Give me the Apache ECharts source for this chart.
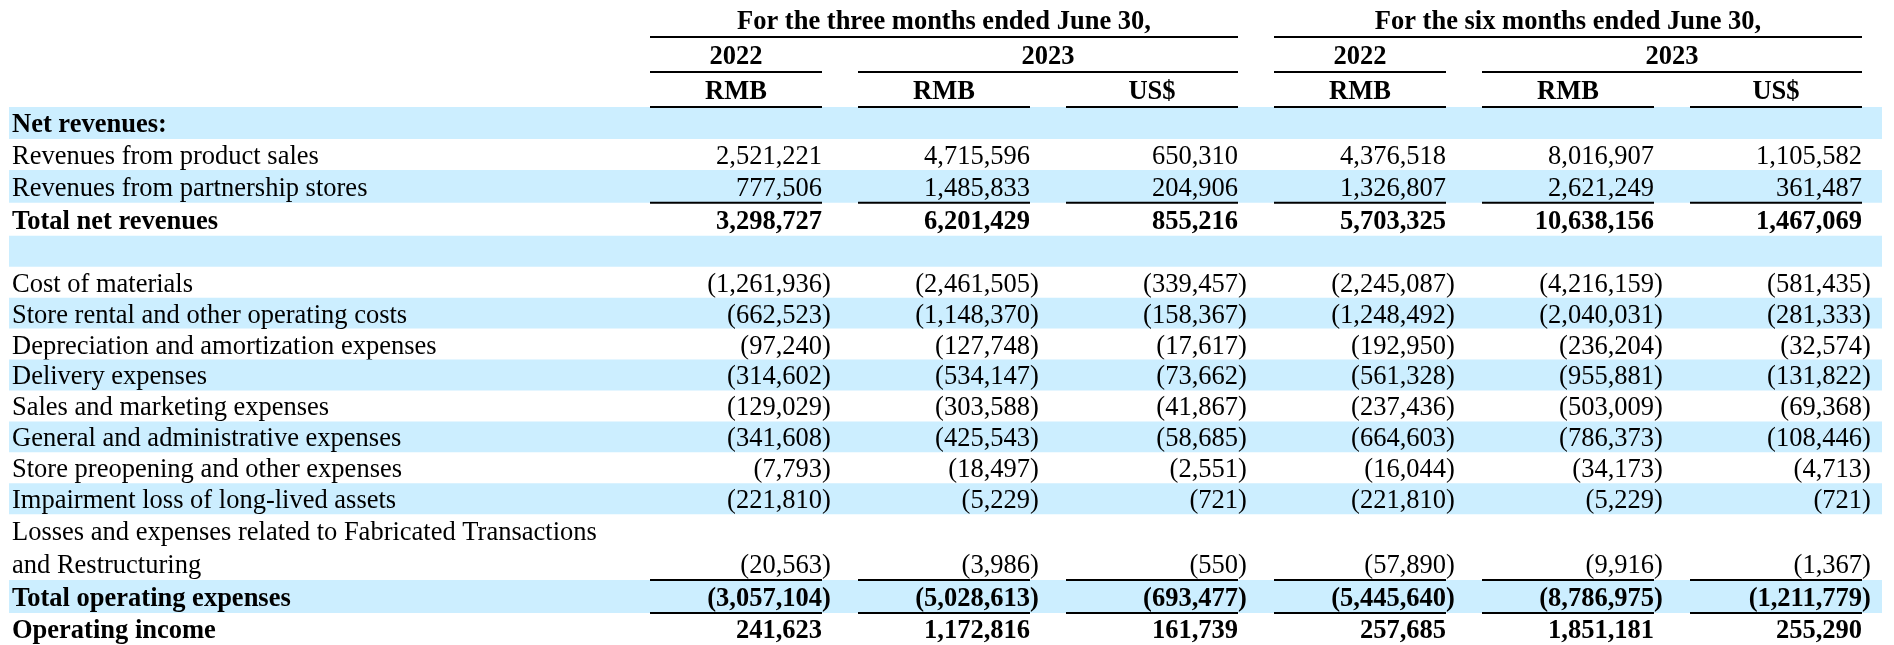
<!DOCTYPE html>
<html>
<head>
<meta charset="utf-8">
<script src="https://cdn.jsdelivr.net/npm/echarts@6/dist/echarts.min.js"></script>
<style>
html,body{margin:0;padding:0;background:#ffffff;}
#chart{width:1894px;height:645px;}
</style>
</head>
<body>
<div id="chart"></div>
<script>
// ---------------- DATA ----------------
const periodLabels = ['For the three months ended June 30,', 'For the six months ended June 30,'];
const yearLabels = ['2022', '2023', '2022', '2023'];
const currencyLabels = ['RMB', 'RMB', 'US$', 'RMB', 'RMB', 'US$'];

const rowLabels = [
  'Net revenues:',
  'Revenues from product sales',
  'Revenues from partnership stores',
  'Total net revenues',
  '',
  'Cost of materials',
  'Store rental and other operating costs',
  'Depreciation and amortization expenses',
  'Delivery expenses',
  'Sales and marketing expenses',
  'General and administrative expenses',
  'Store preopening and other expenses',
  'Impairment loss of long-lived assets',
  'Losses and expenses related to Fabricated Transactions\nand Restructuring',
  'Total operating expenses',
  'Operating income'
];

const threeMonths2022Rmb = [null, 2521221, 777506, 3298727, null, -1261936, -662523, -97240, -314602, -129029, -341608, -7793, -221810, -20563, -3057104, 241623];
const threeMonths2023Rmb = [null, 4715596, 1485833, 6201429, null, -2461505, -1148370, -127748, -534147, -303588, -425543, -18497, -5229, -3986, -5028613, 1172816];
const threeMonths2023Usd = [null, 650310, 204906, 855216, null, -339457, -158367, -17617, -73662, -41867, -58685, -2551, -721, -550, -693477, 161739];
const sixMonths2022Rmb   = [null, 4376518, 1326807, 5703325, null, -2245087, -1248492, -192950, -561328, -237436, -664603, -16044, -221810, -57890, -5445640, 257685];
const sixMonths2023Rmb   = [null, 8016907, 2621249, 10638156, null, -4216159, -2040031, -236204, -955881, -503009, -786373, -34173, -5229, -9916, -8786975, 1851181];
const sixMonths2023Usd   = [null, 1105582, 361487, 1467069, null, -581435, -281333, -32574, -131822, -69368, -108446, -4713, -721, -1367, -1211779, 255290];

// ---------------- LAYOUT / STYLE ----------------
const columns = [threeMonths2022Rmb, threeMonths2023Rmb, threeMonths2023Usd, sixMonths2022Rmb, sixMonths2023Rmb, sixMonths2023Usd];
const BOLD_ROWS = new Set(['Net revenues:', 'Total net revenues', 'Total operating expenses', 'Operating income']);
const TOP_RULE_ROWS = new Set(['Total net revenues', 'Total operating expenses']);
const BOTTOM_RULE_ROWS = new Set(['Total operating expenses']);
// extra padding (in px at a 31px line) that the original table adds around ruled rows
const LINE_PX = 31;
const EXTRA_PX = {
  'Net revenues:': 1,
  'Revenues from partnership stores': 2,
  'Total net revenues': 2,
  'Losses and expenses related to Fabricated Transactions\nand Restructuring': 4,
  'Total operating expenses': 2,
  'Operating income': 1
};
const FONT = '"Liberation Serif", "Times New Roman", serif';
const FS = 26.5;
const BODY_TEXT_SHIFT = 2.5;
const HEAD_TEXT_SHIFT = 2.5;
const BAND = '#cceeff';
const COL_PX = 208, GAP_PX = 36, LABEL_PX = 605, RIGHT_PAD_PX = 20;
const GAP = GAP_PX / COL_PX;
const X_MIN = -LABEL_PX / COL_PX;
const X_MAX = columns.length + RIGHT_PAD_PX / COL_PX;

// header spans (column index ranges)
const periodSpans = [[0, 2], [3, 5]];
const yearSpans = [[0, 0], [1, 2], [3, 3], [4, 5]];
const headerCells = [];
periodLabels.forEach((t, i) => headerCells.push({ row: 0, c0: periodSpans[i][0], c1: periodSpans[i][1], text: t }));
yearLabels.forEach((t, i) => headerCells.push({ row: 1, c0: yearSpans[i][0], c1: yearSpans[i][1], text: t }));
currencyLabels.forEach((t, i) => headerCells.push({ row: 2, c0: i, c1: i, text: t }));

// body rows (y unit = one text line)
let cursor = 0;
const bodyRows = rowLabels.map((label, i) => {
  const lines = label.split('\n');
  const span = lines.length + (EXTRA_PX[label] || 0) / LINE_PX;
  const r = {
    label, lines, start: cursor, span: span,
    shaded: i % 2 === 0,
    bold: BOLD_ROWS.has(label),
    topRule: TOP_RULE_ROWS.has(label),
    bottomRule: BOTTOM_RULE_ROWS.has(label),
    values: columns.map(col => col[i])
  };
  cursor += span;
  return r;
});
const totalUnits = cursor;

function fmt(n) {
  return String(Math.abs(n)).replace(/\B(?=(\d{3})+(?!\d))/g, ',');
}
function textEl(x, y, text, align, bold) {
  return {
    type: 'text', x: x, y: y,
    style: { text: text, fill: '#000', fontFamily: FONT, fontSize: FS, fontWeight: bold ? 'bold' : 'normal', align: align, verticalAlign: 'middle' }
  };
}
function ruleEl(x1, x2, y) {
  return { type: 'line', shape: { x1: x1, y1: y, x2: x2, y2: y }, style: { stroke: '#000', lineWidth: 2 } };
}

function renderHeader(params, api) {
  const cell = headerCells[params.dataIndex];
  const p0 = api.coord([cell.c0 + GAP, cell.row]);
  const p1 = api.coord([cell.c1 + 1, cell.row + 1]);
  return {
    type: 'group',
    children: [
      textEl((p0[0] + p1[0]) / 2, (p0[1] + p1[1]) / 2 + HEAD_TEXT_SHIFT, cell.text, 'center', true),
      ruleEl(p0[0], p1[0], p1[1])
    ]
  };
}

function renderBody(params, api) {
  const row = bodyRows[params.dataIndex];
  const cs = params.coordSys;
  const top = api.coord([0, row.start])[1];
  const bottom = api.coord([0, row.start + row.span])[1];
  const lineH = (bottom - top) / row.lines.length;
  const children = [];
  if (row.shaded) {
    children.push({ type: 'rect', shape: { x: cs.x, y: top, width: cs.width, height: bottom - top }, style: { fill: BAND } });
  }
  row.lines.forEach((t, k) => {
    if (t) children.push(textEl(cs.x + 3, top + lineH * (k + 0.5) + BODY_TEXT_SHIFT, t, 'left', row.bold));
  });
  const vy = top + lineH * (row.lines.length - 0.5) + BODY_TEXT_SHIFT;
  row.values.forEach((v, c) => {
    const xr = api.coord([c + 1, 0])[0];
    const xl = api.coord([c + GAP, 0])[0];
    if (v !== null && v !== undefined) {
      if (v < 0) {
        children.push(textEl(xr, vy, '(' + fmt(v), 'right', row.bold));
        children.push(textEl(xr, vy, ')', 'left', row.bold));
      } else {
        children.push(textEl(xr, vy, fmt(v), 'right', row.bold));
      }
    }
    if (row.topRule) children.push(ruleEl(xl, xr, top));
    if (row.bottomRule) children.push(ruleEl(xl, xr, bottom));
  });
  return { type: 'group', children: children };
}

const chart = echarts.init(document.getElementById('chart'), null, { renderer: 'canvas' });
const xAxisBase = { type: 'value', min: X_MIN, max: X_MAX, show: false };
chart.setOption({
  animation: false,
  backgroundColor: '#ffffff',
  grid: [
    { left: 9, width: 1873, top: 2, height: 105 },
    { left: 9, width: 1873, top: 107, height: 538 }
  ],
  xAxis: [Object.assign({ gridIndex: 0 }, xAxisBase), Object.assign({ gridIndex: 1 }, xAxisBase)],
  yAxis: [
    { gridIndex: 0, type: 'value', inverse: true, min: 0, max: 3, show: false },
    { gridIndex: 1, type: 'value', inverse: true, min: 0, max: totalUnits, show: false }
  ],
  series: [
    {
      type: 'custom', xAxisIndex: 1, yAxisIndex: 1, clip: false, z: 2,
      renderItem: renderBody,
      data: bodyRows.map(r => [0, r.start])
    },
    {
      type: 'custom', xAxisIndex: 0, yAxisIndex: 0, clip: false, z: 3,
      renderItem: renderHeader,
      data: headerCells.map(c => [c.c0, c.row])
    }
  ]
});
</script>
</body>
</html>
